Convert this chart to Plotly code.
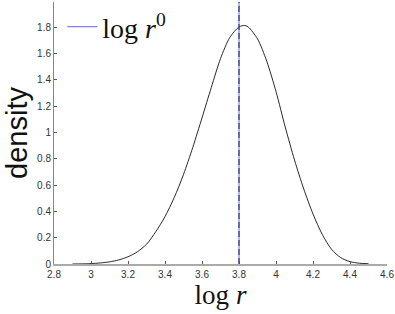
import plotly.graph_objects as go

log_r = [2.90, 2.95, 3.00, 3.05, 3.10, 3.15, 3.20, 3.25, 3.30, 3.35, 3.40, 3.45,
         3.50, 3.55, 3.60, 3.65, 3.70, 3.75, 3.80, 3.83, 3.85, 3.90, 3.95, 4.00,
         4.05, 4.10, 4.15, 4.20, 4.25, 4.30, 4.35, 4.40, 4.45, 4.50]
density = [0.000, 0.001, 0.003, 0.008, 0.016, 0.031, 0.055, 0.092, 0.150, 0.245,
           0.360, 0.505, 0.680, 0.885, 1.110, 1.340, 1.560, 1.720, 1.800, 1.812,
           1.800, 1.710, 1.540, 1.310, 1.040, 0.790, 0.570, 0.380, 0.225, 0.112,
           0.048, 0.018, 0.006, 0.002]
log_r0 = 3.8
x_ticks = [2.8, 3.0, 3.2, 3.4, 3.6, 3.8, 4.0, 4.2, 4.4, 4.6]
x_labels = ["2.8", "3", "3.2", "3.4", "3.6", "3.8", "4", "4.2", "4.4", "4.6"]
y_ticks = [0, 0.2, 0.4, 0.6, 0.8, 1.0, 1.2, 1.4, 1.6, 1.8]
y_labels = ["0", "0.2", "0.4", "0.6", "0.8", "1", "1.2", "1.4", "1.6", "1.8"]

fig = go.Figure()
fig.add_trace(go.Scatter(x=log_r, y=density, mode="lines", showlegend=False,
                         line=dict(color="#111111", width=0.9, shape="spline",
                                   smoothing=0.8)))
fig.add_trace(go.Scatter(x=[log_r0, log_r0], y=[0, 1.99], mode="lines",
                         name="log <i>r</i><sup>0</sup>",
                         line=dict(color="#8080ff", width=1.2)))
fig.add_trace(go.Scatter(x=[log_r0, log_r0], y=[0, 1.99], mode="lines", showlegend=False,
                         line=dict(color="#222244", width=1, dash="6px,3px")))

fig.update_layout(
    width=395, height=314,
    margin=dict(l=54, r=8, t=2, b=50),
    plot_bgcolor="white", paper_bgcolor="white",
    font=dict(family="Liberation Sans, Arial, sans-serif", size=10, color="#333333"),
    xaxis=dict(range=[2.8, 4.6], tickvals=x_ticks, ticktext=x_labels,
               showgrid=False, zeroline=False, showline=True, linecolor="#aaaaaa",
               linewidth=1.5, ticks="inside", ticklen=3, tickcolor="#555555",
               title=dict(text="log <i>r</i>", standoff=6,
                          font=dict(family="Liberation Serif, DejaVu Serif, serif",
                                    size=27, color="#111111"))),
    yaxis=dict(range=[0, 1.99], tickvals=y_ticks, ticktext=y_labels,
               showgrid=False, zeroline=False, showline=True, linecolor="#888888",
               linewidth=1, ticks="inside", ticklen=3, tickcolor="#555555",
               title=dict(text="density", standoff=0,
                          font=dict(family="Liberation Sans, Arial, sans-serif",
                                    size=29, color="#111111"))),
    legend=dict(x=0.025, y=1.0, xanchor="left", yanchor="top", itemwidth=30,
                bgcolor="rgba(0,0,0,0)",
                font=dict(family="Liberation Serif, DejaVu Serif, serif",
                          size=28, color="#111111")),
)
fig.write_html("out.html", config={"displayModeBar": False},
               post_script="document.body.style.margin='0';document.body.style.overflow='hidden';")
